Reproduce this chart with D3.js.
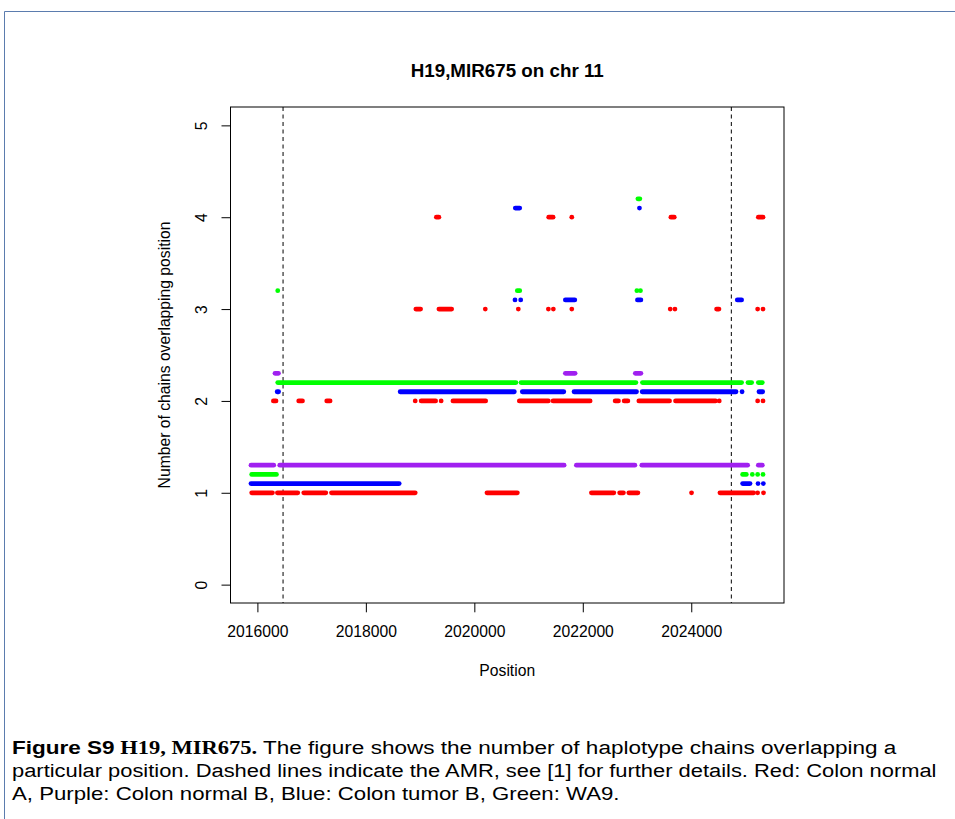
<!DOCTYPE html>
<html>
<head>
<meta charset="utf-8">
<script src="https://cdn.jsdelivr.net/npm/d3@7"></script>
<style>
  body { margin: 0; background: #fff; }
  svg { display: block; }
  text { font-family: "Liberation Sans", Arial, sans-serif; }
</style>
</head>
<body>
<svg width="955" height="819"></svg>
<script>
// chains overlapping each position: [start, end, count]; a single position has start == end
var colonNormalA = [
    [2015895, 2016277, 1], [2016369, 2016744, 1], [2016855, 2017261, 1], [2017366, 2018910, 1],
    [2020233, 2020793, 1], [2022159, 2022572, 1], [2022680, 2022749, 1], [2022849, 2023016, 1],
    [2024005, 2024005, 1], [2024529, 2025150, 1], [2025224, 2025224, 1], [2025332, 2025332, 1],
    [2016295, 2016343, 2], [2016762, 2016831, 2], [2017279, 2017340, 2], [2018910, 2018910, 2],
    [2019020, 2019286, 2], [2019388, 2019388, 2], [2019606, 2020209, 2], [2020830, 2021365, 2],
    [2021452, 2022135, 2], [2022597, 2022657, 2], [2022763, 2022831, 2], [2023034, 2023599, 2],
    [2023710, 2024448, 2], [2024516, 2024516, 2], [2025224, 2025224, 2], [2025323, 2025323, 2],
    [2018922, 2019009, 3], [2019347, 2019582, 3], [2020202, 2020202, 3], [2020811, 2020811, 3],
    [2021365, 2021365, 3], [2021457, 2021457, 3], [2021797, 2021797, 3], [2023612, 2023612, 3],
    [2023699, 2023699, 3], [2024467, 2024511, 3], [2025224, 2025224, 3], [2025323, 2025323, 3],
    [2019300, 2019346, 4], [2021372, 2021452, 4], [2021797, 2021797, 4], [2023625, 2023686, 4],
    [2025237, 2025323, 4]
];
var colonNormalB = [
    [2015882, 2016301, 1], [2016412, 2021655, 1], [2021882, 2022960, 1], [2023089, 2025039, 1],
    [2025237, 2025310, 1],
    [2016325, 2016388, 2], [2021679, 2021858, 2], [2022969, 2023071, 2]
];
var colonTumorB = [
    [2015882, 2018614, 1], [2024947, 2025083, 1], [2025231, 2025231, 1], [2025329, 2025329, 1],
    [2016365, 2016390, 2], [2018633, 2020737, 2], [2020885, 2021649, 2], [2021839, 2022990, 2],
    [2023095, 2024825, 2], [2024937, 2024937, 2], [2025249, 2025316, 2],
    [2020750, 2020750, 3], [2020855, 2020855, 3], [2021679, 2021852, 3], [2023008, 2023071, 3],
    [2024849, 2024928, 3],
    [2020756, 2020837, 4], [2023045, 2023045, 4]
];
var wa9 = [
    [2015895, 2016351, 1], [2024947, 2025015, 1], [2025126, 2025126, 1], [2025224, 2025224, 1],
    [2025323, 2025323, 1],
    [2016375, 2020767, 2], [2020861, 2022979, 2], [2023100, 2024928, 2], [2025046, 2025113, 2],
    [2025237, 2025310, 2],
    [2016375, 2016375, 3], [2020793, 2020837, 3], [2022997, 2022997, 3], [2023063, 2023063, 3],
    [2023016, 2023052, 4]
];

var seriesNames = ['Colon normal A', 'Colon normal B', 'Colon tumor B', 'WA9'];
var seriesColors = ['#ff0000', '#a020f0', '#0000ff', '#00ff00'];
var seriesOffsets = [0, 0.3, 0.1, 0.2];
var seriesData = [colonNormalA, colonNormalB, colonTumorB, wa9];

var amrBounds = [2016473, 2024739];
var xTicks = [2016000, 2018000, 2020000, 2022000, 2024000];
var yTicks = [0, 1, 2, 3, 4, 5];

var captionLines = [
    [['Figure S9', 'bold'], [' H19, MIR675.', 'serif'], [' The figure shows the number of haplotype chains overlapping a', '']],
    [['particular position. Dashed lines indicate the AMR, see [1] for further details. Red: Colon normal', '']],
    [['A, Purple: Colon normal B, Blue: Colon tumor B, Green: WA9.', '']]
];
var captionWidths = [885, 925, 608];


var svg = d3.select('svg');

// page frame
svg.append('path')
    .attr('d', 'M4.5,819 V11.5 H955')
    .attr('fill', 'none')
    .attr('stroke', '#5b7cae')
    .attr('stroke-width', 1);

var plotLeft = 230.5, plotRight = 784, plotTop = 107, plotBottom = 603;

// R style axis limits: data range widened by 4% on both sides
var allX = [];
seriesData.forEach(function(s){
    s.forEach(function(d){ allX.push(d[0], d[1]); });
});
var xExt = d3.extent(allX);
var pad = (xExt[1] - xExt[0]) * 0.04;

var scaleX = d3.scaleLinear().domain([xExt[0] - pad, xExt[1] + pad]).range([plotLeft, plotRight]);
var scaleY = d3.scaleLinear().domain([-0.2, 5.2]).range([plotBottom, plotTop]);

svg.append('text')
    .text('H19,MIR675 on chr 11')
    .attr('x', (plotLeft + plotRight) / 2)
    .attr('y', 76.5)
    .attr('text-anchor', 'middle')
    .attr('font-weight', 'bold')
    .attr('font-size', '18.8px');

// axes
var xAxis = svg.append('g')
    .attr('transform', 'translate(0,' + plotBottom + ')')
    .call(d3.axisBottom(scaleX).tickValues(xTicks).tickSize(9.3).tickPadding(0).tickFormat(d3.format('d')));

var yAxis = svg.append('g')
    .attr('transform', 'translate(' + plotLeft + ',0)')
    .call(d3.axisLeft(scaleY).tickValues(yTicks).tickSize(9).tickFormat(d3.format('d')));

[xAxis, yAxis].forEach(function(a){
    a.select('.domain').remove();
    a.selectAll('line').attr('stroke', '#000').attr('stroke-width', 1);
    a.selectAll('text')
        .attr('fill', '#000')
        .attr('font-size', '15.7px')
        .attr('font-family', '"Liberation Sans", Arial, sans-serif');
});

xAxis.selectAll('text').attr('dy', null).attr('y', 34.3);

yAxis.selectAll('text')
    .attr('x', null).attr('dy', null)
    .attr('text-anchor', 'middle')
    .attr('transform', 'translate(-23.3,0)rotate(-90)');

svg.append('text')
    .text('Position')
    .attr('x', (plotLeft + plotRight) / 2)
    .attr('y', 676)
    .attr('text-anchor', 'middle')
    .attr('font-size', '15.7px');

svg.append('text')
    .text('Number of chains overlapping position')
    .attr('text-anchor', 'middle')
    .attr('font-size', '15.7px')
    .attr('transform', 'translate(170,' + (plotTop + plotBottom) / 2 + ')rotate(-90)');

// AMR limits
svg.selectAll('.amr')
    .data(amrBounds)
    .enter()
    .append('line')
    .attr('class', 'amr')
    .attr('x1', function(d){ return scaleX(d); })
    .attr('x2', function(d){ return scaleX(d); })
    .attr('y1', plotTop)
    .attr('y2', plotBottom)
    .attr('stroke', '#000')
    .attr('stroke-width', 1)
    .attr('stroke-dasharray', '4,3.5');

// chains: runs of dots drawn as rounded bars
var r = 2.4;
seriesData.forEach(function(s, i){
    svg.append('g')
        .attr('class', 'series')
        .selectAll('rect')
        .data(s)
        .enter()
        .append('rect')
        .attr('x', function(d){ return scaleX(d[0]) - r; })
        .attr('width', function(d){ return scaleX(d[1]) - scaleX(d[0]) + 2 * r; })
        .attr('y', function(d){ return scaleY(d[2] + seriesOffsets[i]) - r; })
        .attr('height', 2 * r)
        .attr('rx', r)
        .attr('fill', seriesColors[i]);
});

// plot box
svg.append('rect')
    .attr('x', plotLeft)
    .attr('y', plotTop)
    .attr('width', plotRight - plotLeft)
    .attr('height', plotBottom - plotTop)
    .attr('fill', 'none')
    .attr('stroke', '#000')
    .attr('stroke-width', 1);

// caption
captionLines.forEach(function(line, i){
    var t = svg.append('text')
        .attr('font-size', '18px')
        .attr('fill', '#000');
    line.forEach(function(part){
        var sp = t.append('tspan').text(part[0]);
        if(part[1] == 'bold'){
            sp.attr('font-weight', 'bold');
        }
        else if(part[1] == 'serif'){
            sp.attr('font-weight', 'bold').attr('font-family', '"Liberation Serif", "DejaVu Serif", serif');
        }
    });
    var w = t.node().getComputedTextLength();
    t.attr('transform', 'translate(12,' + (754 + i * 23) + ')scale(' + (captionWidths[i] / w) + ',1)');
});
</script>
</body>
</html>
